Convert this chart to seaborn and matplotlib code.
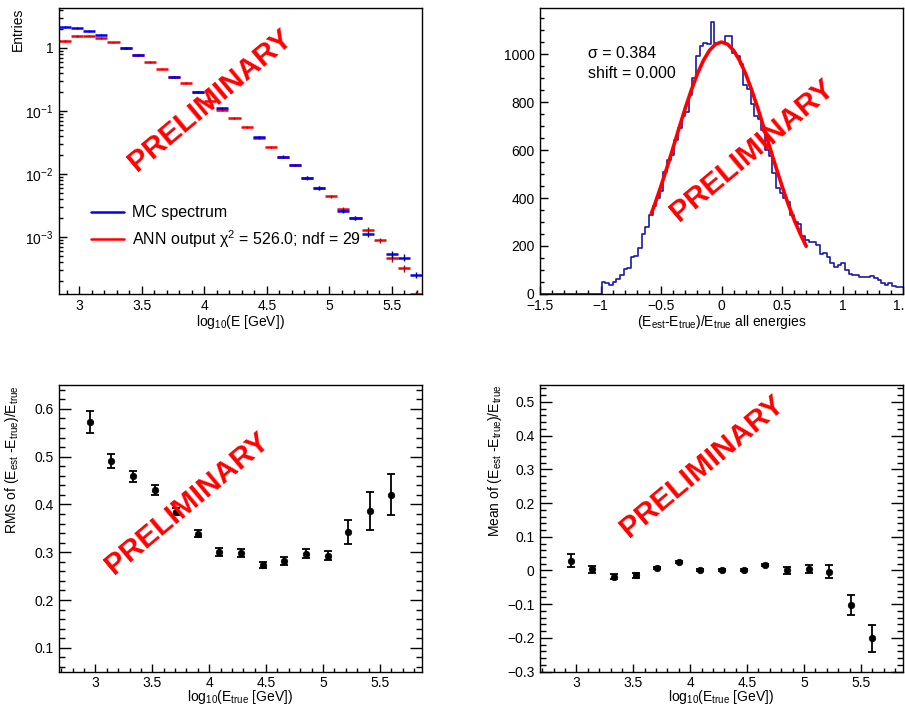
import numpy as np
import pandas as pd
import matplotlib
matplotlib.use("Agg")
import matplotlib.pyplot as plt
from matplotlib.ticker import (MultipleLocator, FixedLocator, FuncFormatter,
                               LogLocator, NullFormatter)
import seaborn as sns

# --- top left: energy spectrum, 30 bins in log10(E) ---
spec_lo, spec_hi, spec_nbins = 2.84, 5.74, 30
mc_spectrum = [2.16, 2.08, 1.85, 1.63, np.nan, 0.99, 0.78, np.nan, np.nan, 0.345,
               np.nan, 0.203, np.nan, 0.11, np.nan, np.nan, 0.038, np.nan, 0.0188, 0.0139,
               0.0087, 0.0060, np.nan, 0.0026, 0.0020, 0.0011, np.nan, 0.00053, 0.00047, 0.00025]
ann_spectrum = [1.28, 1.53, 1.57, 1.44, 1.22, 0.99, 0.77, 0.60, 0.47, 0.34,
                0.28, 0.20, 0.145, 0.105, 0.078, 0.055, 0.037, 0.027, 0.0185, 0.0138,
                0.0086, 0.0060, 0.0044, 0.0028, 0.0020, 0.0013, 0.00088, 0.00046, 0.00032, 0.000125]
spec_relerr = [0.03, 0.03, 0.03, 0.03, 0.03, 0.03, 0.03, 0.03, 0.03, 0.03,
               0.03, 0.03, 0.04, 0.04, 0.04, 0.04, 0.04, 0.04, 0.05, 0.05,
               0.06, 0.06, 0.06, 0.08, 0.08, 0.1, 0.1, 0.12, 0.12, 0.12]

# --- top right: relative error histogram, all energies ---
res_lo, res_hi, res_nbins = -1.5, 1.5, 100
res_counts = [0, 0, 0, 0, 0, 0, 0, 0, 0, 0,
              0, 0, 0, 0, 0, 0, 0, 51, 45, 38,
              50, 62, 80, 103, 108, 155, 160, 190, 250, 280,
              330, 365, 400, 430, 510, 560, 580, 640, 690, 740,
              760, 830, 900, 990, 1032, 1046, 1040, 1132, 1046, 1046,
              1046, 1074, 1074, 1004, 990, 960, 870, 855, 790, 740,
              730, 684, 600, 575, 505, 440, 420, 400, 385, 330,
              300, 290, 240, 225, 215, 215, 205, 165, 170, 155,
              128, 114, 120, 128, 100, 85, 79, 79, 72, 72,
              72, 75, 65, 58, 45, 38, 47, 35, 31, 31]
fit_x = [-0.58, -0.55, -0.50, -0.45, -0.40, -0.35, -0.30, -0.25, -0.20, -0.15,
         -0.10, -0.05, 0.00, 0.05, 0.10, 0.15, 0.20, 0.25, 0.30, 0.35,
         0.40, 0.45, 0.50, 0.55, 0.60, 0.65, 0.70]
fit_y = [336, 376, 450, 528, 610, 693, 774, 849, 917, 973,
         1015, 1041, 1050, 1041, 1015, 973, 917, 849, 774, 693,
         610, 528, 450, 376, 310, 251, 199]
fit_sigma = "0.384"
fit_shift = "0.000"

# --- bottom: RMS and mean per energy bin ---
logE_true = [2.95, 3.14, 3.33, 3.52, 3.71, 3.90, 4.09, 4.28, 4.47, 4.66,
             4.85, 5.04, 5.22, 5.41, 5.60]
rms_vals = [0.573, 0.491, 0.459, 0.430, 0.385, 0.339, 0.300, 0.299, 0.273, 0.282,
            0.297, 0.293, 0.343, 0.387, 0.420]
rms_errs = [0.023, 0.015, 0.012, 0.010, 0.007, 0.008, 0.008, 0.008, 0.007, 0.008,
            0.010, 0.010, 0.025, 0.040, 0.043]
mean_vals = [0.029, 0.004, -0.018, -0.014, 0.007, 0.026, 0.001, 0.001, 0.001, 0.016,
             0.001, 0.004, -0.003, -0.103, -0.201]
mean_errs = [0.020, 0.010, 0.008, 0.008, 0.004, 0.003, 0.003, 0.003, 0.003, 0.004,
             0.010, 0.012, 0.018, 0.030, 0.040]

sns.set_theme(style="ticks", rc={"text.color": "black", "axes.labelcolor": "black",
                                 "xtick.color": "black", "ytick.color": "black",
                                 "axes.edgecolor": "black", "axes.linewidth": 1.0})
plt.rcParams["font.family"] = ["Liberation Sans", "DejaVu Sans"]
plt.rcParams["mathtext.fontset"] = "custom"
plt.rcParams["mathtext.rm"] = "Liberation Sans"
plt.rcParams["mathtext.it"] = "Liberation Sans:italic"
plt.rcParams["mathtext.bf"] = "Liberation Sans:bold"

TICK_FS = 10
LABEL_FS = 10
dash = lambda v, p: ("%g" % v).replace("-", "\u2212")

fig = plt.figure(figsize=(9.05, 7.06), dpi=100)
ax_tl = fig.add_axes([0.0652, 0.5836, 0.4011, 0.4051])
ax_tr = fig.add_axes([0.5967, 0.5836, 0.4011, 0.4051])
ax_bl = fig.add_axes([0.0652, 0.0486, 0.4011, 0.4061])
ax_br = fig.add_axes([0.5967, 0.0486, 0.4011, 0.4061])

# ---------- top left ----------
edges = np.linspace(spec_lo, spec_hi, spec_nbins + 1)
centers = 0.5 * (edges[:-1] + edges[1:])
mc = np.array(mc_spectrum, dtype=float)
ann = np.array(ann_spectrum, dtype=float)
rel = np.array(spec_relerr)
ok = ~np.isnan(mc)

ax = ax_tl
ax.set_yscale("log")
ax.hlines(ann, edges[:-1], edges[1:], color="red", lw=1.8, zorder=2)
ax.errorbar(centers, ann, yerr=ann * rel, fmt="none", ecolor="#b00000", elinewidth=1.0, zorder=2)
ax.hlines(mc[ok], edges[:-1][ok], edges[1:][ok], color="blue", lw=1.8, zorder=3)
ax.errorbar(centers[ok], mc[ok], yerr=mc[ok] * rel[ok], fmt="none", ecolor="#0000a0",
            elinewidth=1.0, zorder=3)
h_mc, = ax.plot([], [], color="blue", lw=1.8, label="MC spectrum")
h_ann, = ax.plot([], [], color="red", lw=1.8, label="ANN output \u03c7$^{2}$ = 526.0; ndf = 29")
ax.legend(handles=[h_mc, h_ann], loc="upper left", bbox_to_anchor=(0.088, 0.31),
          frameon=False, fontsize=11.5, handlelength=2.1, handletextpad=0.45,
          borderpad=0, borderaxespad=0, labelspacing=0.5)
ax.set_xlim(spec_lo, spec_hi)
ax.set_ylim(1.24e-4, 4.3)
ax.yaxis.set_major_locator(FixedLocator([1e-3, 1e-2, 1e-1, 1]))
ax.yaxis.set_major_formatter(FuncFormatter(
    lambda v, p: "1" if abs(v - 1) < 1e-9 else r"$10^{%d}$" % round(np.log10(v))))
ax.yaxis.set_minor_locator(LogLocator(base=10, subs=np.arange(2, 10)))
ax.yaxis.set_minor_formatter(NullFormatter())
ax.set_xlabel(r"log$_{10}$(E [GeV])", fontsize=LABEL_FS)
ax.set_ylabel("Entries", fontsize=LABEL_FS, loc="top")
ax.yaxis.set_label_coords(-0.095, 1.0)

# ---------- top right ----------
res_edges = np.linspace(res_lo, res_hi, res_nbins + 1)
res_df = pd.DataFrame({"x": 0.5 * (res_edges[:-1] + res_edges[1:]), "n": res_counts})
ax = ax_tr
sns.histplot(data=res_df, x="x", weights="n", bins=list(res_edges), element="step",
             fill=False, color="#1a1aa6", linewidth=1.2, ax=ax)
sns.lineplot(x=fit_x, y=fit_y, color="red", linewidth=2.6, ax=ax)
ax.set_xlim(res_lo, res_hi)
ax.set_ylim(0, 1192)
ax.set_ylabel("")
ax.set_xlabel(r"(E$_{\mathrm{est}}$-E$_{\mathrm{true}}$)/E$_{\mathrm{true}}$ all energies",
              fontsize=LABEL_FS)
ax.yaxis.set_major_locator(MultipleLocator(200))
ax.yaxis.set_minor_locator(MultipleLocator(50))
fig.text(588 / 905, 1 - 53 / 706, "\u03c3 = " + fit_sigma, fontsize=11.5, va="center")
fig.text(588 / 905, 1 - 73 / 706, "shift = " + fit_shift, fontsize=11.5, va="center")

# ---------- bottom left ----------
ax = ax_bl
ax.errorbar(logE_true, rms_vals, yerr=rms_errs, fmt="none", ecolor="black",
            elinewidth=1.3, capsize=3, capthick=1.3, zorder=2)
sns.scatterplot(x=logE_true, y=rms_vals, color="black", s=22, edgecolor="black",
                linewidth=0.5, ax=ax, zorder=3)
ax.set_ylim(0.05, 0.65)
ax.yaxis.set_major_locator(MultipleLocator(0.1))
ax.yaxis.set_minor_locator(MultipleLocator(0.02))
ax.set_ylabel(r"RMS of (E$_{\mathrm{est}}$ -E$_{\mathrm{true}}$)/E$_{\mathrm{true}}$",
              fontsize=LABEL_FS, loc="top")
ax.yaxis.set_label_coords(-0.105, 1.0)

# ---------- bottom right ----------
ax = ax_br
ax.errorbar(logE_true, mean_vals, yerr=mean_errs, fmt="none", ecolor="black",
            elinewidth=1.3, capsize=3, capthick=1.3, zorder=2)
sns.scatterplot(x=logE_true, y=mean_vals, color="black", s=22, edgecolor="black",
                linewidth=0.5, ax=ax, zorder=3)
ax.set_ylim(-0.3, 0.55)
ax.yaxis.set_major_locator(MultipleLocator(0.1))
ax.yaxis.set_minor_locator(MultipleLocator(0.02))
ax.set_ylabel(r"Mean of (E$_{\mathrm{est}}$ -E$_{\mathrm{true}}$)/E$_{\mathrm{true}}$",
              fontsize=LABEL_FS, loc="top")
ax.yaxis.set_label_coords(-0.10, 1.0)

for ax in (ax_tl, ax_tr, ax_bl, ax_br):
    ax.xaxis.set_major_locator(MultipleLocator(0.5))
    ax.xaxis.set_minor_locator(MultipleLocator(0.1))
    ax.xaxis.set_major_formatter(FuncFormatter(dash))
    if ax is not ax_tl:
        ax.yaxis.set_major_formatter(FuncFormatter(dash))
    ax.tick_params(which="both", direction="in", labelsize=TICK_FS, width=1.0, pad=4,
                   top=False)
    ax.tick_params(axis="x", which="major", length=6)
    ax.tick_params(axis="x", which="minor", length=3)
    for s in ax.spines.values():
        s.set_linewidth(1.0)
        s.set_color("black")

for ax in (ax_bl, ax_br):
    ax.set_xlim(2.68, 5.87)
    ax.set_xlabel(r"log$_{10}$(E$_{\mathrm{true}}$ [GeV])", fontsize=LABEL_FS)
    ax.tick_params(axis="y", which="major", length=8.5, right=True)
    ax.tick_params(axis="y", which="minor", length=4.2, right=True)
    ax.tick_params(axis="x", which="major", pad=3)
    ax.xaxis.set_label_coords(0.5, -0.058)

for ax in (ax_tl, ax_tr):
    ax.tick_params(axis="y", which="major", length=5.5, right=False)
    ax.tick_params(axis="y", which="minor", length=3, right=False)
    ax.tick_params(axis="x", which="major", pad=3.5)
    ax.xaxis.set_label_coords(0.5, -0.066)

# PRELIMINARY stamps
for fx, fy in [(210, 100), (752, 150), (187, 503), (702, 466)]:
    fig.text(fx / 905, 1 - fy / 706, "PRELIMINARY", color="red", fontsize=21.5,
             fontweight="bold", rotation=40, ha="center", va="center",
             rotation_mode="anchor")

fig.savefig("out.png", dpi=100)
